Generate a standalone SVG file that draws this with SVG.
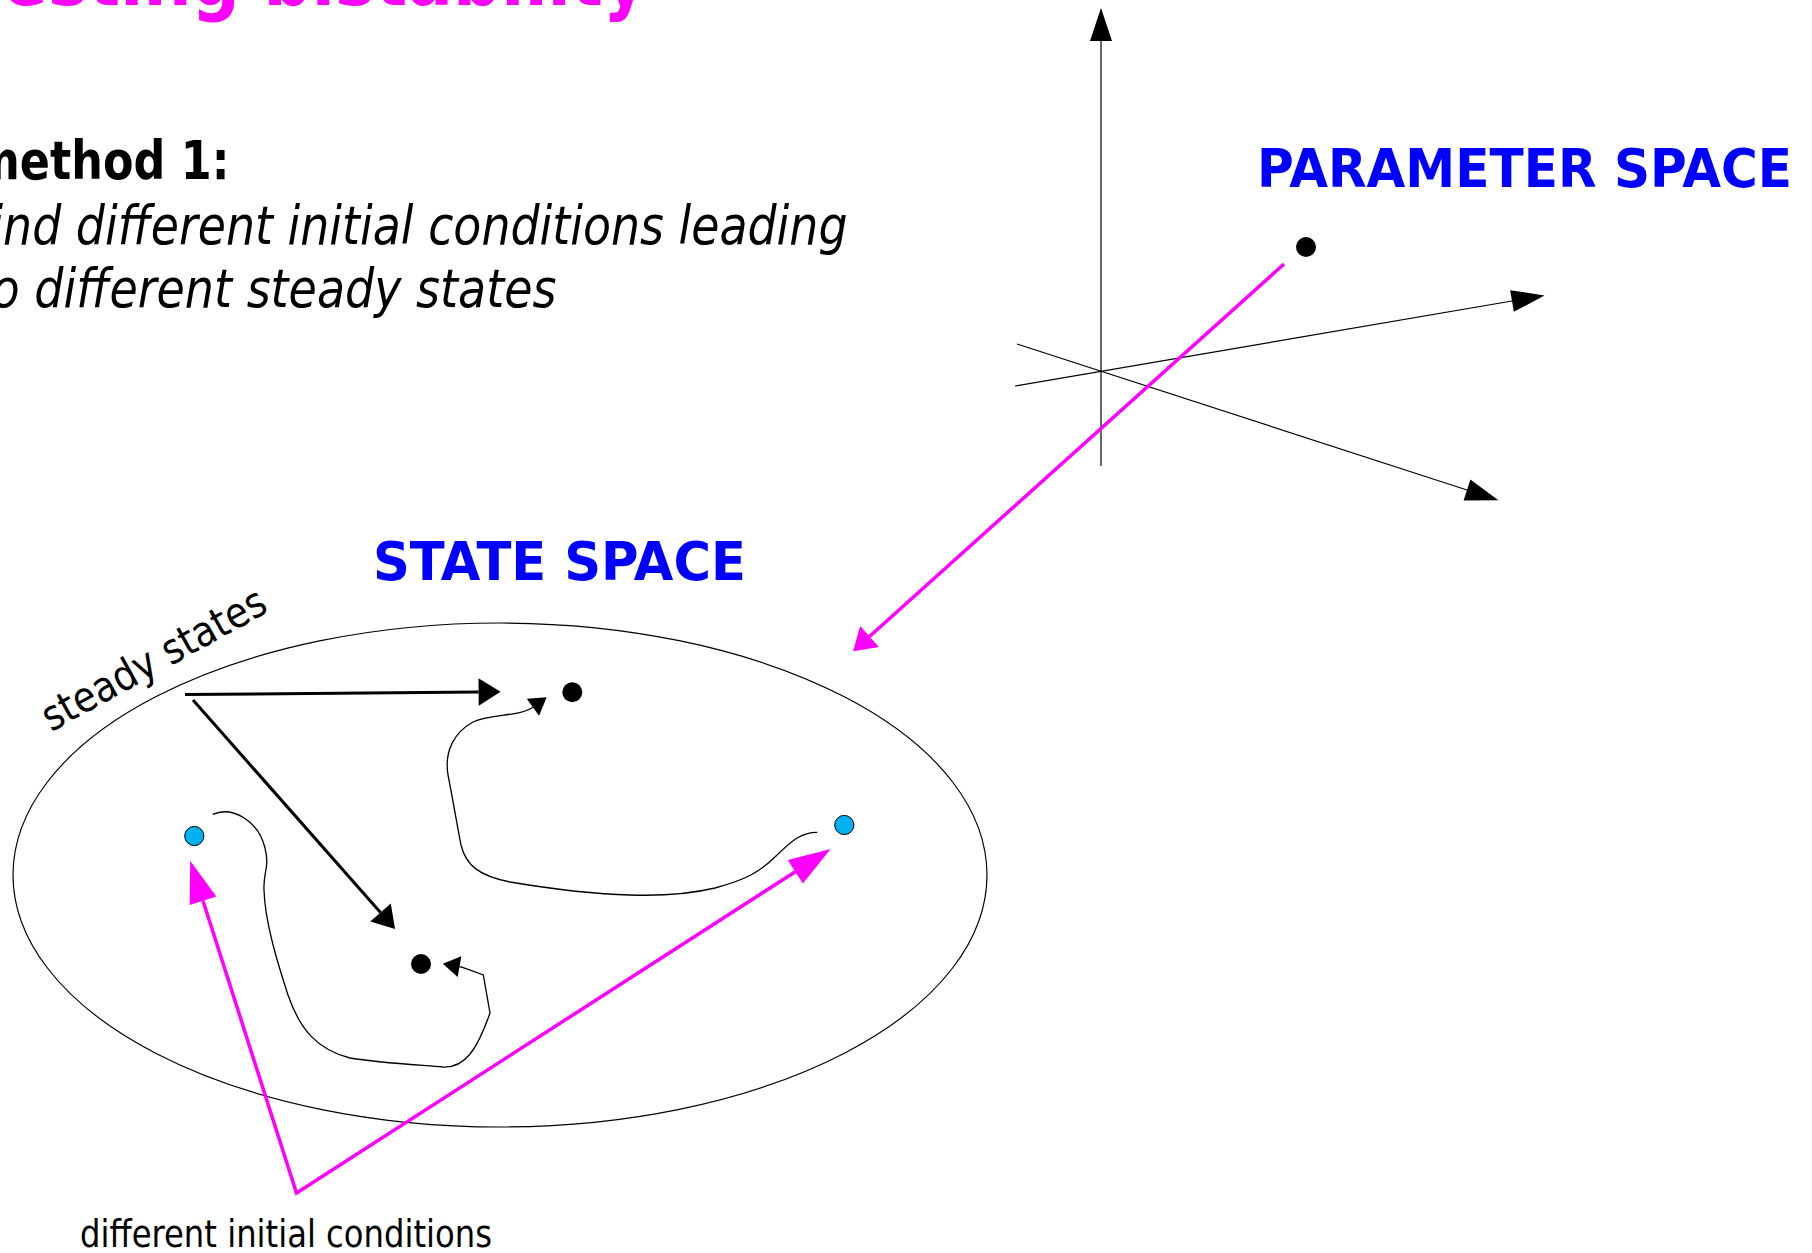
<svg xmlns="http://www.w3.org/2000/svg" width="1812" height="1253" viewBox="0 0 1812 1253">
<style>
.sans{font-family:"DejaVu Sans","Liberation Sans",sans-serif}
.title{font-weight:bold;font-size:80px;fill:#ff00ff}
.body{font-size:54px;fill:#000}
.it{font-style:italic}
.bold{font-weight:bold}
.space{font-weight:bold;font-size:52.5px;fill:#0000ff}
.axis{stroke:#000;stroke-width:1.2;fill:none}
.thin{stroke:#000;stroke-width:1.3;fill:none}
.thick{stroke:#000;stroke-width:3;fill:none}
.mag{stroke:#ff00ff;stroke-width:3.5;fill:none}
.dot{fill:#000}
.bdot{fill:#00b0f0;stroke:#000;stroke-width:1}
</style>
<defs>
<marker id="mAxis" markerUnits="userSpaceOnUse" markerWidth="40" markerHeight="30" refX="0" refY="0" orient="auto" overflow="visible"><path d="M0,-11 L33,0 L0,11 z" fill="#000"/></marker>
<marker id="mThick" markerUnits="userSpaceOnUse" markerWidth="30" markerHeight="30" refX="0" refY="0" orient="auto" overflow="visible"><path d="M0,-13.7 L22,0 L0,13.7 z" fill="#000"/></marker>
<marker id="mSmall" markerUnits="userSpaceOnUse" markerWidth="20" markerHeight="24" refX="0" refY="0" orient="auto" overflow="visible"><path d="M0,-10.5 L17,0 L0,10.5 z" fill="#000"/></marker>
<marker id="mMagLong" markerUnits="userSpaceOnUse" markerWidth="50" markerHeight="30" refX="0" refY="0" orient="auto-start-reverse" overflow="visible"><path d="M0,-14 L42,0 L0,14 z" fill="#ff00ff"/></marker>
<marker id="mMagShort" markerUnits="userSpaceOnUse" markerWidth="30" markerHeight="30" refX="0" refY="0" orient="auto" overflow="visible"><path d="M0,-14 L22,0 L0,14 z" fill="#ff00ff"/></marker>
</defs>
<rect width="1812" height="1253" fill="#fff"/>

<g id="title"><text class="sans title" x="-35" y="5" textLength="682" lengthAdjust="spacingAndGlyphs">Testing bistability</text></g>
<g id="method">
<text class="sans body bold" x="-26.5" y="179" font-size="56" textLength="256" lengthAdjust="spacingAndGlyphs">method 1:</text>
<text class="sans body it" x="-26.5" y="244" textLength="874" lengthAdjust="spacingAndGlyphs">find different initial conditions leading</text>
<text class="sans body it" x="-26.5" y="307" textLength="583" lengthAdjust="spacingAndGlyphs">to different steady states</text>
</g>

<g id="parameter-space">
<text class="sans space" x="1257" y="187" font-size="52.7" textLength="535" lengthAdjust="spacingAndGlyphs">PARAMETER SPACE</text>
<line class="axis" x1="1101" y1="466" x2="1101" y2="41" marker-end="url(#mAxis)"/>
<line class="axis" x1="1015" y1="386" x2="1512" y2="301" marker-end="url(#mAxis)"/>
<line class="axis" x1="1017" y1="344" x2="1467" y2="490" marker-end="url(#mAxis)"/>
<circle id="param-point" class="dot" cx="1306" cy="247" r="10"/>
</g>

<g id="state-space">
<text class="sans space" x="373" y="580" textLength="373" lengthAdjust="spacingAndGlyphs">STATE SPACE</text>
<ellipse class="axis" cx="500" cy="875" rx="487" ry="252"/>
<text class="sans" font-size="42" text-anchor="middle" textLength="250" lengthAdjust="spacingAndGlyphs" transform="translate(160.5,671.6) rotate(-29)">steady states</text>
<circle id="steady-upper" class="dot" cx="572.3" cy="692.3" r="10"/>
<circle id="steady-lower" class="dot" cx="421" cy="964" r="10"/>
<circle id="init-left" class="bdot" cx="194.3" cy="836" r="9.6"/>
<circle id="init-right" class="bdot" cx="844.3" cy="825" r="9.6"/>
</g>

<g id="initial-label"><text class="sans" font-size="37" x="80" y="1247" textLength="412" lengthAdjust="spacingAndGlyphs">different initial conditions</text></g>

<g id="connectors">
<line class="thick" x1="185" y1="694.5" x2="478.6" y2="692" marker-end="url(#mThick)"/>
<line class="thick" x1="193" y1="700" x2="380.5" y2="912.5" marker-end="url(#mThick)"/>
<path class="thin" d="M212.7,814.3 C232,806 258,820 265,848 C270,868 263,872 264,890 C265,920 275,955 288,995 C300,1030 318,1050 350,1058 C380,1063 420,1065 443,1067 C465,1068 477,1050 490,1013 L483.3,975 L461.2,967 L459.5,966.7" marker-end="url(#mSmall)"/>
<path class="thin" d="M817.3,832.3 C800,832 790,843 776,856 C760,872 745,880 715,888 C690,894 660,896 630,895 C590,894 540,887 510,882 C480,876 466,866 461,845 C458,830 452,795 448,775 C444,750 455,732 473,722 C490,714 520,716.5 532.9,707.2" marker-end="url(#mSmall)"/>
<line class="mag" x1="1284" y1="264" x2="869.5" y2="636.5" marker-end="url(#mMagShort)"/>
<polyline class="mag" points="203,900.8 296.5,1193 795.3,871.7" marker-start="url(#mMagLong)" marker-end="url(#mMagLong)"/>
</g>
</svg>
